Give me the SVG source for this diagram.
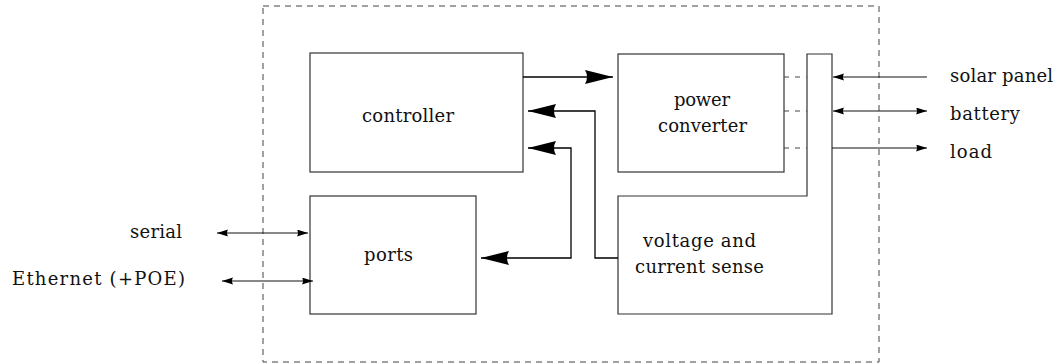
<svg xmlns="http://www.w3.org/2000/svg" width="1058" height="364" viewBox="0 0 1058 364">
<style>
.box{fill:#fff;stroke:#333;stroke-width:1.2}
.dash{fill:none;stroke:#444;stroke-width:1;stroke-dasharray:6,5}
.stub{fill:none;stroke:#444;stroke-width:1;stroke-dasharray:5,6}
.ln{fill:none;stroke:#000;stroke-width:1.3}
.thin{fill:none;stroke:#111;stroke-width:1}
.t{font-family:'DejaVu Serif','Liberation Serif',serif;font-size:18px;fill:#111}
</style>
<defs>
<marker id="big" markerUnits="userSpaceOnUse" markerWidth="30" markerHeight="16" refX="28" refY="7" orient="auto-start-reverse" viewBox="0 0 30 16">
<path d="M0,0 L28,7 L0,14 Q4,7 0,0 z" fill="#000"/>
</marker>
<marker id="small" markerUnits="userSpaceOnUse" markerWidth="12" markerHeight="8" refX="11" refY="3.5" orient="auto-start-reverse" viewBox="0 0 12 8">
<path d="M0,0 L11,3.5 L0,7 Q2,3.5 0,0 z" fill="#000"/>
</marker>
</defs>
<rect class="dash" x="263" y="6" width="616" height="356"/>
<g id="controller">
<rect class="box" x="310" y="53" width="213" height="119"/>
<text class="t" x="362" y="122" textLength="92" lengthAdjust="spacing">controller</text>
</g>
<g id="power-converter">
<rect class="box" x="618" y="54" width="166" height="118"/>
<text class="t" x="674" y="106" textLength="56" lengthAdjust="spacing">power</text>
<text class="t" x="658" y="132" textLength="89" lengthAdjust="spacing">converter</text>
</g>
<g id="sense">
<path class="box" d="M618,196 L807,196 L807,54 L832,54 L832,314 L618,314 Z"/>
<text class="t" x="643" y="247" textLength="113" lengthAdjust="spacing">voltage and</text>
<text class="t" x="635" y="273" textLength="129" lengthAdjust="spacing">current sense</text>
</g>
<g id="ports">
<rect class="box" x="310" y="196" width="166" height="118"/>
<text class="t" x="364" y="261" textLength="49" lengthAdjust="spacing">ports</text>
</g>
<g id="labels">
<text class="t" x="950" y="82" textLength="103" lengthAdjust="spacing">solar panel</text>
<text class="t" x="950" y="120" textLength="70" lengthAdjust="spacing">battery</text>
<text class="t" x="950" y="158" textLength="42" lengthAdjust="spacing">load</text>
<text class="t" x="130" y="238" textLength="52" lengthAdjust="spacing">serial</text>
<text class="t" x="12" y="285" textLength="173" lengthAdjust="spacing">Ethernet (+POE)</text>
</g>
<g id="connectors">
<path class="ln" d="M523,77 L613,77" marker-end="url(#big)"/>
<path class="ln" d="M618,258 L595,258 L595,111 L528,111" marker-end="url(#big)"/>
<path class="ln" d="M481,258 L571,258 L571,148 L528,148" marker-start="url(#big)" marker-end="url(#big)"/>
<path class="stub" d="M784,77 L807,77 M784,111 L807,111 M784,148 L807,148"/>
<path class="thin" d="M927,77 L833,77" marker-end="url(#small)"/>
<path class="thin" d="M833,111 L927,111" marker-start="url(#small)" marker-end="url(#small)"/>
<path class="thin" d="M832,148 L927,148" marker-end="url(#small)"/>
<path class="thin" d="M217,233 L308,233" marker-start="url(#small)" marker-end="url(#small)"/>
<path class="thin" d="M222,281 L313,281" marker-start="url(#small)" marker-end="url(#small)"/>
</g>
</svg>
